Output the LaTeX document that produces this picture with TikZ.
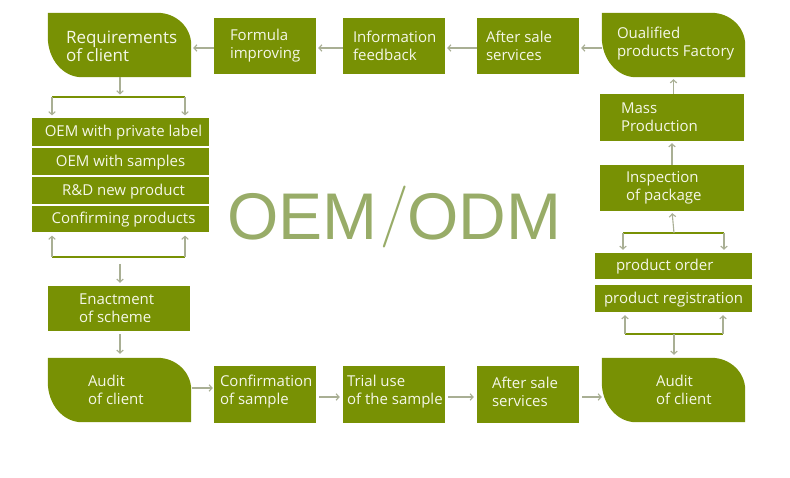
\documentclass[tikz,border=0pt]{standalone}
\usepackage{fontspec}
\newfontfamily\lblfont{Open Sans}
\newfontfamily\bigfont{Liberation Sans}
\usetikzlibrary{arrows.meta,calc,fit}
\definecolor{oemgreen}{HTML}{789104}
\definecolor{txtcol}{HTML}{F5F7E8}
\definecolor{arrcol}{HTML}{A9AF94}
\definecolor{bigcol}{HTML}{98AC68}
\newcommand\leaf[1]{%
  \fill[oemgreen] (#1.north west) -- ([xshift=-34pt]#1.north east)
    .. controls +(18.8pt,0pt) and +(0pt,17.7pt) .. ([yshift=-32pt]#1.north east)
    -- (#1.south east) -- ([xshift=34pt]#1.south west)
    .. controls +(-18.8pt,0pt) and +(0pt,-22pt) .. ([yshift=40pt]#1.south west)
    -- cycle;}
\begin{document}
\begin{tikzpicture}[x=1pt,y=-1pt,
  box/.style={fill=oemgreen, inner sep=0pt},
  frame/.style={inner sep=0pt},
  txt/.style={font=\lblfont\fontsize{15}{18}\selectfont, text=txtcol, align=left, inner sep=0pt, anchor=west},
  row/.style={fill=oemgreen, draw=white, line width=1.2pt, inner sep=0pt},
  rowtxt/.style={font=\lblfont\fontsize{15}{18}\selectfont, text=txtcol, inner sep=0pt},
  arr/.style={draw=arrcol, line width=1.1pt, -{Straight Barb[length=3pt,width=6.5pt]}, shorten >=2pt},
  brk/.style={draw=oemgreen, line width=2pt},
  big/.style={font=\bigfont\fontsize{66}{66}\selectfont, text=bigcol, inner sep=0pt}]
\fill[white] (0,0) rectangle (790,478);
\useasboundingbox (0,0) rectangle (790,478);

% ---- top row ----
\node[frame, fit={(48,13) (191,77)}] (req) {};
\leaf{req}
\node[txt, font=\lblfont\fontsize{17}{18}\selectfont] (reqt) at ([xshift=18pt,yshift=-1pt]req.west) {Requirements\\of client};
\node[box, fit={(214,18) (316,74)}] (fi) {};
\node[txt] (fit) at ([xshift=16pt]fi.west) {Formula\\improving};
\node[box, fit={(343,18) (445,74)}] (inf) {};
\node[txt] (inft) at ([xshift=10pt]inf.west) {Information\\feedback};
\node[box, fit={(477,18) (579,74)}] (ast) {};
\node[txt] (astt) at ([xshift=9pt]ast.west) {After sale\\services};
\node[frame, fit={(602,13) (745,77)}] (qual) {};
\leaf{qual}
\node[txt] (qualt) at ([xshift=15pt,yshift=1pt]qual.west) {Oualified\\products Factory};

% ---- right column ----
\node[box, fit={(600,94) (744,141)}] (mass) {};
\node[txt] (masst) at ([xshift=21pt]mass.west) {Mass\\Production};
\node[box, fit={(600,165) (744,211)}] (insp) {};
\node[txt] (inspt) at ([xshift=26pt]insp.west) {Inspection\\of package};
\node[box, fit={(595,253) (752,279)}] (po) {};
\node[txt] (pot) at ([xshift=21pt,yshift=-1pt]po.west) {product order};
\node[box, fit={(595,285) (752,312)}] (pr) {};
\node[txt] (prt) at ([xshift=9pt,yshift=-1pt]pr.west) {product registration};

% ---- left column ----
\node[row, fit={(31,117) (210,147)}] (r1) {};
\node[rowtxt] (r1t) at ([xshift=3pt,yshift=-1pt]r1.center) {OEM with private label};
\node[row, fit={(31,147) (210,176)}] (r2) {};
\node[rowtxt] (r2t) at ([xshift=0pt,yshift=-1pt]r2.center) {OEM with samples};
\node[row, fit={(31,176) (210,205)}] (r3) {};
\node[rowtxt] (r3t) at ([xshift=3pt,yshift=-1pt]r3.center) {R\&D new product};
\node[row, fit={(31,205) (210,233)}] (r4) {};
\node[rowtxt] (r4t) at ([xshift=3pt,yshift=-1pt]r4.center) {Confirming products};
\node[box, fit={(48,286) (190,331)}] (ena) {};
\node[txt] (enat) at ([xshift=31pt]ena.west) {Enactment\\of scheme};

% ---- bottom row ----
\node[frame, fit={(48,358) (191,422)}] (audl) {};
\leaf{audl}
\node[txt] (audlt) at ([xshift=40pt]audl.west) {Audit\\of client};
\node[box, fit={(214,366) (316,423)}] (conf) {};
\node[txt] (conft) at ([xshift=6pt,yshift=3pt]conf.west) {Confirmation\\of sample};
\node[box, fit={(343,366) (445,423)}] (trial) {};
\node[txt] (trialt) at ([xshift=4pt,yshift=3pt]trial.west) {Trial use\\of the sample};
\node[box, fit={(477,366) (579,423)}] (asb) {};
\node[txt] (asbt) at ([xshift=15pt,yshift=3pt]asb.west) {After sale\\services};
\node[frame, fit={(602,358) (745,422)}] (audr) {};
\leaf{audr}
\node[txt] (audrt) at ([xshift=54pt]audr.west) {Audit\\of client};

% ---- title ----
\node[big, anchor=base west] (oem) at (227,240) {OEM};
\node[big, anchor=base west] (odm) at (407,240) {ODM};
\node[inner sep=0pt, text=bigcol, font=\normalfont\fontsize{62}{62}\selectfont] (sl) at (395,217) {\makebox[22pt][c]{/}};

% ---- brackets ----
\coordinate (b1) at (120,97.5);
\coordinate (b1l) at (52,97.5);
\coordinate (b1r) at (185,97.5);
\coordinate (b2) at (120,257);
\coordinate (b2l) at (52,257);
\coordinate (b2r) at (185,257);
\coordinate (b3) at (674,233);
\coordinate (b3l) at (623,233);
\coordinate (b3r) at (724,233);
\coordinate (b4) at (674,334);
\coordinate (b4l) at (625,334);
\coordinate (b4r) at (723,334);
\draw[brk] (b1l) -- (b1r);
\draw[brk] (b2l) -- (b2r);
\draw[brk] (b3l) -- (b3r);
\draw[brk] (b4l) -- (b4r);

% ---- connectors: top row ----
\draw[arr, shorten <=0pt] ([yshift=-2pt]fi.west) -- ([yshift=-2pt]fi.west -| req.east);
\draw[arr] ([yshift=-2pt]inf.west) -- ([yshift=-2pt]fi.east);
\draw[arr] ([yshift=-2pt]ast.west) -- ([yshift=-2pt]inf.east);
\draw[arr] ([yshift=-3pt]qual.west) -- ([yshift=-2pt]ast.east);

% ---- right column ----
\draw[arr] (mass.north -| qual.south) -- (qual.south);
\draw[arr] (insp.north) -- (mass.south);
\draw[arr] (b3) -- (insp.south);
\draw[arr, shorten >=3pt] (b3l) -- (b3l |- po.north);
\draw[arr, shorten >=3pt] (b3r) -- (b3r |- po.north);
\draw[arr, shorten >=3pt] (b4l) -- (b4l |- pr.south);
\draw[arr, shorten >=3pt] (b4r) -- (b4r |- pr.south);
\draw[arr, shorten >=3pt] (b4) -- (b4 |- audr.north);

% ---- left column ----
\draw[arr, shorten >=3pt] (req.south -| b1) -- (b1);
\draw[arr, shorten >=1pt] (b1l) -- (b1l |- r1.north);
\draw[arr, shorten >=1pt] (b1r) -- (b1r |- r1.north);
\draw[arr, shorten >=2pt] (b2l) -- (b2l |- r4.south);
\draw[arr, shorten >=2pt] (b2r) -- (b2r |- r4.south);
\draw[arr, shorten <=7pt, shorten >=3pt] (b2) -- (b2 |- ena.north);
\draw[arr, shorten <=3pt, shorten >=4pt] (ena.south -| b2) -- (b2 |- audl.north);

% ---- bottom row ----
\draw[arr, shorten <=1pt, shorten >=1pt] ([yshift=2pt]audl.east) -- ([yshift=2pt]audl.east -| conf.west);
\draw[arr, shorten <=3pt, shorten >=3pt] ([yshift=-2.5pt]conf.east) -- ([yshift=-2.5pt]trial.west);
\draw[arr, shorten <=3pt, shorten >=3pt] ([yshift=-2.5pt]trial.east) -- ([yshift=-2.5pt]asb.west);
\draw[arr, shorten <=3pt, shorten >=0pt] ([yshift=-2.5pt]asb.east) -- ([yshift=-2.5pt]asb.east -| audr.west);
\end{tikzpicture}
\end{document}
